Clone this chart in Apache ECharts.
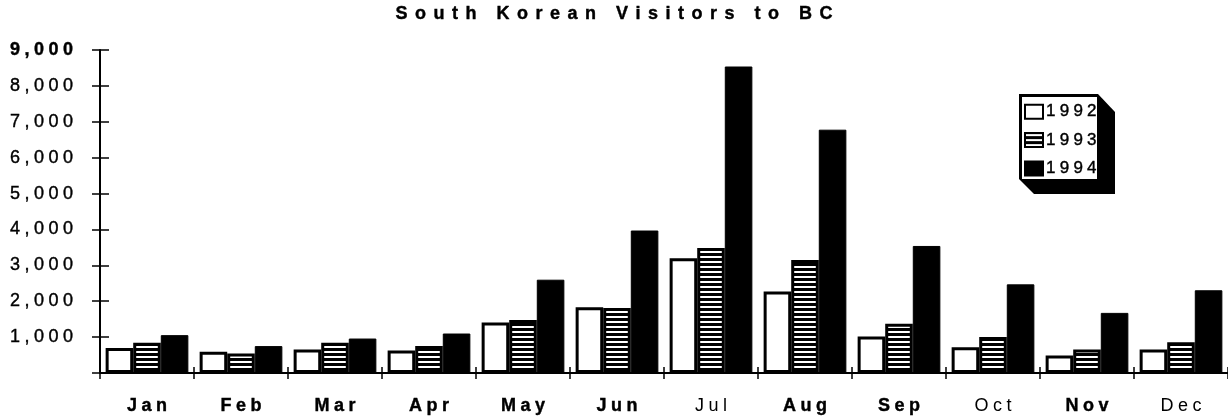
<!DOCTYPE html>
<html>
<head>
<meta charset="utf-8">
<title>South Korean Visitors to BC</title>
<script src="https://cdn.jsdelivr.net/npm/echarts@6/dist/echarts.min.js"></script>
<style>
  html, body { margin: 0; padding: 0; background: #fff; }
  #chart { width: 1228px; height: 417px; }
</style>
</head>
<body>
<div id="chart"></div>
<script>
// Monthly visitor counts from South Korea to British Columbia
const months = ['Jan', 'Feb', 'Mar', 'Apr', 'May', 'Jun', 'Jul', 'Aug', 'Sep', 'Oct', 'Nov', 'Dec'];
const lightMonths = ['Jul', 'Oct', 'Dec'];
const seriesNames = ['1992', '1993', '1994'];
const visitors1992 = [700, 590, 655, 630, 1410, 1830, 3200, 2270, 1020, 720, 490, 655];
const visitors1993 = [840, 545, 840, 750, 1480, 1810, 3480, 3150, 1370, 1000, 655, 860];
const visitors1994 = [1055, 750, 960, 1100, 2600, 3970, 8540, 6780, 3540, 2470, 1675, 2305];
const yMax = 9000;
const yStep = 1000;

const FONT = '"Liberation Sans", Arial, Helvetica, sans-serif';
const spread = (s, sep) => Array.from(s).join(sep);
const fmtThousands = v => String(v).replace(/\B(?=(\d{3})+(?!\d))/g, ',');

// horizontal hatch fill: black with thin white lines
const hatch = document.createElement('canvas');
hatch.width = 4; hatch.height = 5;
(function () {
  const c = hatch.getContext('2d');
  c.fillStyle = '#000'; c.fillRect(0, 0, 4, 5);
  c.fillStyle = '#fff'; c.fillRect(0, 1, 4, 2);
})();

const chart = echarts.init(document.getElementById('chart'), null, { renderer: 'canvas' });

// slightly heavier glyphs, like an ink-printed chart
const ink = { textBorderColor: '#000', textBorderWidth: 0.4 };

const yAxisBase = {
  type: 'value', min: 0, max: yMax, interval: yStep, position: 'left',
  splitLine: { show: false },
  axisLine: { show: true, lineStyle: { color: '#000', width: 2 } }
};

chart.setOption({
  backgroundColor: '#fff',
  animation: false,
  title: {
    text: spread('South Korean Visitors to BC', '\u2005\u2006'),
    left: 'center', top: 0,
    textStyle: Object.assign({ fontFamily: FONT, fontSize: 18, fontWeight: 'bold', color: '#000' }, ink)
  },
  legend: {
    orient: 'vertical', left: 1024, top: 103, z: 10,
    itemWidth: 18, itemHeight: 14, itemGap: 11, padding: 0,
    icon: 'rect',
    data: seriesNames,
    formatter: n => spread(n, '\u2005'),
    textStyle: Object.assign({ fontFamily: FONT, fontSize: 17, color: '#000', padding: [0, 0, 0, -2] }, ink)
  },
  graphic: [
    {
      type: 'polygon', z: 1, silent: true,
      shape: { points: [[1019, 94], [1098, 94], [1115, 112], [1115, 194], [1034, 194], [1019, 179]] },
      style: { fill: '#000' }
    },
    {
      type: 'rect', z: 2, silent: true,
      shape: { x: 1022, y: 97, width: 75, height: 82 },
      style: { fill: '#fff' }
    }
  ],
  grid: { left: 100, right: 0, top: 50, bottom: 44, containLabel: false },
  xAxis: [
    {
      type: 'category', data: months, position: 'bottom',
      axisLine: { show: true, lineStyle: { color: '#000', width: 2 } },
      axisTick: { show: true, length: 6, lineStyle: { color: '#000', width: 1.5 } },
      axisLabel: {
        margin: 24,
        formatter: m => (lightMonths.includes(m) ? '{n|' : '{b|') + spread(m, '\u2005') + '}',
        rich: {
          b: Object.assign({ fontFamily: FONT, fontSize: 18, fontWeight: 'bold', color: '#000' }, ink),
          n: { fontFamily: FONT, fontSize: 18, fontWeight: 'normal', color: '#000' }
        }
      }
    },
    {
      type: 'category', data: months, position: 'bottom',
      axisLine: { show: false },
      axisTick: { show: true, inside: true, length: 6, lineStyle: { color: '#000', width: 1.5 } },
      axisLabel: { show: false }
    }
  ],
  yAxis: [
    Object.assign({}, yAxisBase, {
      axisTick: { show: true, length: 8, lineStyle: { color: '#000', width: 1.5 } },
      axisLabel: {
        margin: 27,
        formatter: v => {
          if (v === 0) return '';
          const t = spread(fmtThousands(v), '\u2005');
          return v === yMax ? '{b|' + t + '}' : '{n|' + t + '}';
        },
        rich: {
          b: Object.assign({ fontFamily: FONT, fontSize: 18, fontWeight: 'bold', color: '#000' }, ink),
          n: Object.assign({ fontFamily: FONT, fontSize: 18, color: '#000' }, ink)
        }
      }
    }),
    Object.assign({}, yAxisBase, {
      axisLine: { show: false },
      axisTick: { show: true, inside: true, length: 9, lineStyle: { color: '#000', width: 1.5 } },
      axisLabel: { show: false }
    })
  ],
  series: [
    {
      name: seriesNames[0], type: 'bar', data: visitors1992,
      barGap: '0%', barCategoryGap: '12%',
      itemStyle: { color: '#fff', borderColor: '#000', borderWidth: 3 }
    },
    {
      name: seriesNames[1], type: 'bar', data: visitors1993,
      barGap: '0%', barCategoryGap: '12%',
      itemStyle: { color: { image: hatch, repeat: 'repeat' }, borderColor: '#000', borderWidth: 3 }
    },
    {
      name: seriesNames[2], type: 'bar', data: visitors1994,
      barGap: '0%', barCategoryGap: '12%',
      itemStyle: { color: '#000', borderColor: '#000', borderWidth: 1 }
    }
  ]
});
</script>
</body>
</html>
